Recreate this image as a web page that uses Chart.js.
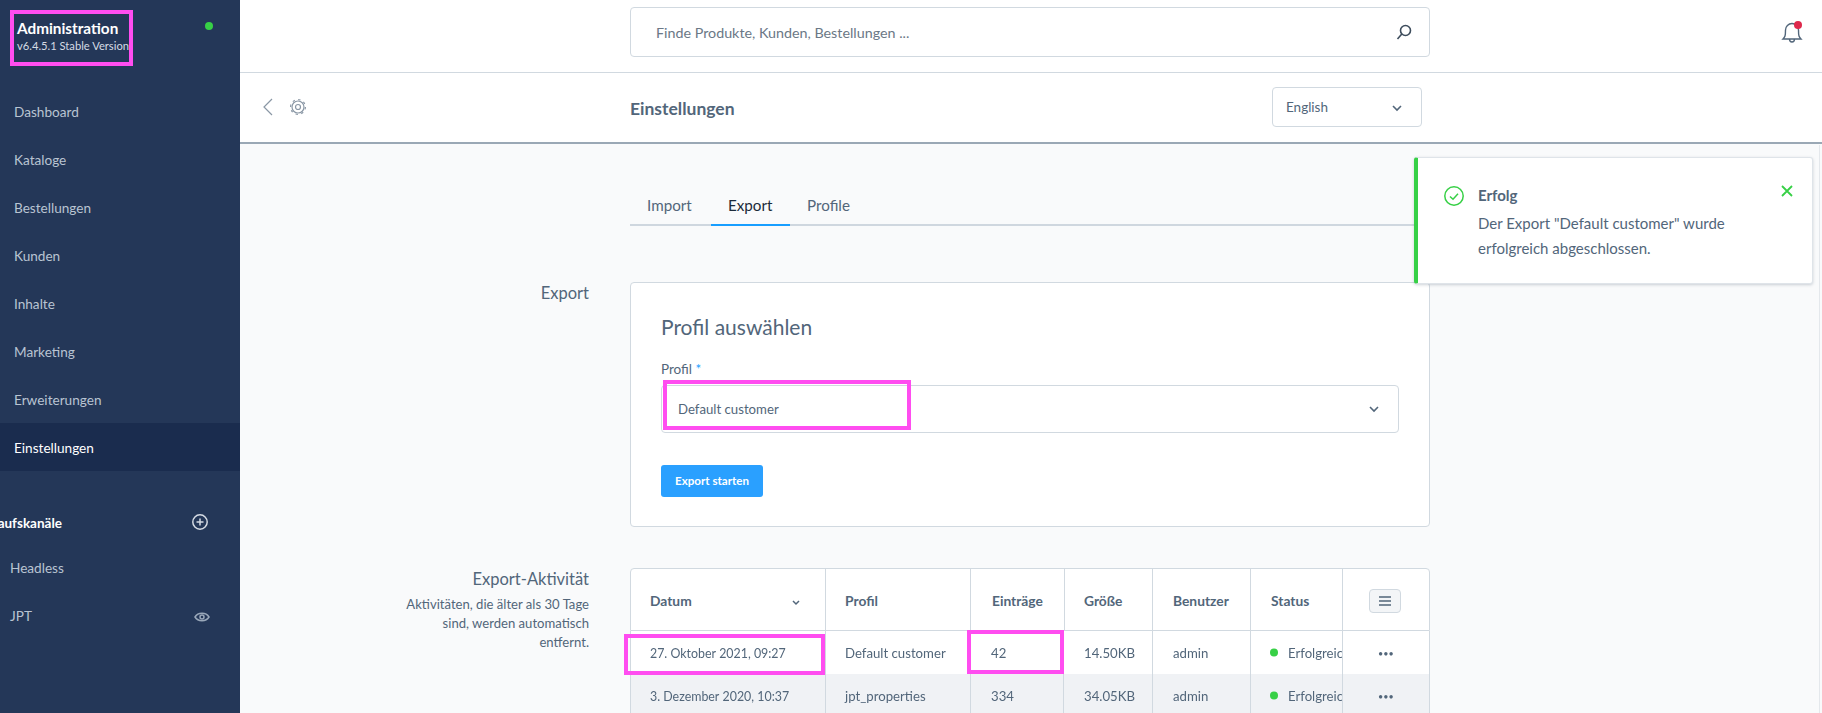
<!DOCTYPE html>
<html lang="de">
<head>
<meta charset="utf-8">
<title>Einstellungen</title>
<script src="https://cdn.jsdelivr.net/npm/chart.js@4"></script>
<style>
  html, body { margin: 0; padding: 0; width: 1822px; height: 713px; overflow: hidden; background: #f9fafb; font-family: Lato, sans-serif; color: #52667a; }
  .box { position: absolute; box-sizing: border-box; }
  .t { position: absolute; transform: translateY(-50%); white-space: nowrap; line-height: 1.2; }
  .r { text-align: right; }
  .mark { position: absolute; box-sizing: border-box; border: 4px solid #ff4df0; z-index: 5; }
  svg { position: absolute; overflow: visible; fill: none; }
  #tableWrap { position: absolute; left: 630px; top: 631px; width: 800px; height: 86px; }
  .nav { color: #b9c4d2; font-size: 13.6px; }
  .th { font-size: 13.8px; font-weight: 700; }
  .vline { position: absolute; top: 568px; height: 63px; width: 1px; background: #d1d9e0; }
</style>
</head>
<body>
<div class="box" style="left:0;top:0;width:240px;height:713px;background:#243758"></div>
<div class="box" style="left:0;top:423px;width:240px;height:48px;background:#1a2c4e"></div>
<div class="t" style="left:17px;top:28px;color:#fff;font-size:15.3px;font-weight:700">Administration</div>
<div class="t" style="left:17px;top:46px;color:#d5dbe4;font-size:11.2px">v6.4.5.1 Stable Version</div>
<div class="box" style="left:205px;top:22px;width:8px;height:8px;border-radius:50%;background:#37d046"></div>
<div id="nav"></div>
<div class="t" style="right:1760px;top:523px;color:#fff;font-size:13.5px;font-weight:700">Verkaufskanäle</div>
<svg style="left:192px;top:514px" width="16" height="16" stroke="#d5dbe4" stroke-width="1.5"><circle cx="8" cy="8" r="7.2"/><path d="M4.5 8h7M8 4.5v7"/></svg>
<div class="t nav" style="left:10px;top:568px">Headless</div>
<div class="t nav" style="left:10px;top:616px">JPT</div>
<svg style="left:194px;top:611px" width="16" height="12" stroke="#9aa8ba" stroke-width="1.5"><path d="M1 6C4 1 12 1 15 6 12 11 4 11 1 6Z"/><circle cx="8" cy="6" r="2"/></svg>

<div class="box" style="left:240px;top:0;width:1582px;height:73px;background:#fff;border-bottom:1px solid #d1d9e0"></div>
<div class="box" style="left:240px;top:73px;width:1582px;height:71px;background:#fff;border-bottom:2px solid #9aa8b5"></div>
<div class="box" style="left:630px;top:7px;width:800px;height:50px;background:#fff;border:1px solid #d1d9e0;border-radius:4px"></div>
<div class="t" style="left:656px;top:33px;font-size:14.3px;color:#6b7886">Finde Produkte, Kunden, Bestellungen ...</div>
<svg style="left:1396px;top:24px" width="16" height="16" stroke="#3d4c5c" stroke-width="1.6"><circle cx="9.5" cy="6.5" r="5"/><path d="M5.8 10 1.5 15"/></svg>
<svg style="left:1782px;top:22px" width="20" height="22" stroke="#52667a" stroke-width="1.4"><path d="M1 17c2-2 2.5-3 2.5-9a6.5 6.5 0 0 1 13 0c0 6 .5 7 2.5 9ZM7.5 17c0 4 5 4 5 0"/></svg>
<div class="box" style="left:1794px;top:21px;width:8px;height:8px;border-radius:50%;background:#de294c"></div>

<svg style="left:262px;top:98px" width="12" height="18" stroke="#8a97a5" stroke-width="1.2"><path d="M10 1 2 9l8 8"/></svg>
<svg style="left:290px;top:99px" width="16" height="16" stroke="#8a97a5" stroke-width="1.2"><circle cx="8" cy="8" r="2.5"/><circle cx="8" cy="8" r="6"/><circle cx="8" cy="8" r="7.4" stroke-dasharray="2.4 3.4"/></svg>
<div class="t" style="left:630px;top:108px;font-size:17.5px;font-weight:700">Einstellungen</div>
<div class="box" style="left:1272px;top:87px;width:150px;height:40px;background:#fff;border:1px solid #d1d9e0;border-radius:4px"></div>
<div class="t" style="left:1286px;top:107px;font-size:13.5px">English</div>
<svg style="left:1392px;top:105px" width="10" height="6" stroke="#52667a" stroke-width="1.6"><path d="M1 1l4 4 4-4"/></svg>

<div class="t" style="left:647px;top:205px;font-size:15.2px">Import</div>
<div class="t" style="left:728px;top:205px;font-size:15.2px;color:#1b2a3a">Export</div>
<div class="t" style="left:807px;top:205px;font-size:15.2px">Profile</div>
<div class="box" style="left:630px;top:224px;width:800px;height:2px;background:#cfd7df"></div>
<div class="box" style="left:711px;top:224px;width:79px;height:2px;background:#189eff"></div>

<div class="t r" style="right:1233px;top:294px;font-size:16.5px">Export</div>
<div class="t r" style="right:1233px;top:580px;font-size:16.5px">Export-Aktivität</div>
<div class="t r" style="right:1233px;top:605px;font-size:13.1px">Aktivitäten, die älter als 30 Tage</div>
<div class="t r" style="right:1233px;top:624px;font-size:13.1px">sind, werden automatisch</div>
<div class="t r" style="right:1233px;top:643px;font-size:13.1px">entfernt.</div>

<div class="box" style="left:630px;top:282px;width:800px;height:245px;background:#fff;border:1px solid #d1d9e0;border-radius:4px"></div>
<div class="t" style="left:661px;top:327px;font-size:21px">Profil auswählen</div>
<div class="t" style="left:661px;top:369px;font-size:13.5px">Profil <span style="color:#189eff">*</span></div>
<div class="box" style="left:661px;top:385px;width:738px;height:48px;background:#fff;border:1px solid #d1d9e0;border-radius:4px"></div>
<div class="t" style="left:678px;top:410px;font-size:13.2px">Default customer</div>
<svg style="left:1369px;top:406px" width="10" height="6" stroke="#52667a" stroke-width="1.6"><path d="M1 1l4 4 4-4"/></svg>
<div class="box" style="left:661px;top:465px;width:102px;height:32px;background:#2aa0ff;border-radius:3px"></div>
<div class="t" style="left:661px;top:481px;width:102px;text-align:center;color:#fff;font-size:11.6px;font-weight:700">Export starten</div>

<div class="box" style="left:630px;top:568px;width:800px;height:63px;background:#fff;border:1px solid #d1d9e0;border-radius:4px 4px 0 0"></div>
<div id="tableHead"></div>
<svg style="left:792px;top:600px" width="8" height="5" stroke="#52667a" stroke-width="1.5"><path d="M1 1l3 3 3-3"/></svg>
<div class="box" style="left:1369px;top:589px;width:32px;height:24px;background:#f3f5f7;border:1px solid #d1d9e0;border-radius:4px"></div>
<svg style="left:1378px;top:595px" width="14" height="12" stroke="#52667a" stroke-width="1.3"><path d="M1 2h12M1 6h12M1 10h12"/></svg>

<div id="tableWrap"><canvas id="exportTable"></canvas></div>

<div class="mark" style="left:10px;top:10px;width:123px;height:56px"></div>
<div class="mark" style="left:663px;top:380px;width:248px;height:50px"></div>
<div class="mark" style="left:624px;top:634px;width:201px;height:41px"></div>
<div class="mark" style="left:967px;top:630px;width:97px;height:44px"></div>

<div class="box" style="left:1414px;top:157px;width:399px;height:127px;background:#fff;border:1px solid #dfe4e9;border-left:4px solid #37d046;border-radius:3px;box-shadow:0 1px 3px rgba(60,80,100,.25);z-index:6"></div>
<svg style="left:1444px;top:186px;z-index:7" width="20" height="20" stroke="#37d046" stroke-width="1.5"><circle cx="10" cy="10" r="9.2"/><path d="M6 10.5l3 2.8 5-5.6"/></svg>
<div class="t" style="left:1478px;top:195px;font-size:15px;font-weight:700;z-index:7">Erfolg</div>
<div class="t" style="left:1478px;top:223px;font-size:15px;z-index:7">Der Export "Default customer" wurde</div>
<div class="t" style="left:1478px;top:248px;font-size:15px;z-index:7">erfolgreich abgeschlossen.</div>
<svg style="left:1782px;top:186px;z-index:7" width="10" height="10" stroke="#37d046" stroke-width="1.8"><path d="M0 0l10 10M10 0 0 10"/></svg>
<div class="box" style="left:1819px;top:145px;width:1px;height:568px;background:#e4e8ec"></div>

<script>
// sidebar and table content
const navItems = ['Dashboard', 'Kataloge', 'Bestellungen', 'Kunden', 'Inhalte', 'Marketing', 'Erweiterungen', 'Einstellungen'];
const tableHeaders = ['Datum', 'Profil', 'Einträge', 'Größe', 'Benutzer', 'Status'];
const dates = ['27. Oktober 2021, 09:27', '3. Dezember 2020, 10:37'];
const profiles = ['Default customer', 'jpt_properties'];
const entries = [42, 334];
const sizesKb = [14.50, 34.05];
const users = ['admin', 'admin'];
const statuses = ['Erfolgreich', 'Erfolgreich'];

// table layout, x in px from the left of the table
const columnEdges = [195, 340, 433.5, 522, 620, 712];
const headerX = [20, 215, 362, 454, 543, 641];
const textX = { date: 20, profile: 215, entries: 361, size: 454, user: 543, status: 658, actions: 748 };
const statusDotX = 644;

navItems.forEach((name, i) => {
  const el = document.createElement('div');
  el.className = 't nav';
  el.textContent = name;
  el.style.left = '14px';
  el.style.top = (112 + i * 48) + 'px';
  if (name === 'Einstellungen') el.style.color = '#fff';
  document.getElementById('nav').appendChild(el);
});

const head = document.getElementById('tableHead');
tableHeaders.forEach((name, i) => {
  const el = document.createElement('div');
  el.className = 't th';
  el.textContent = name;
  el.style.left = (630 + headerX[i]) + 'px';
  el.style.top = '601px';
  head.appendChild(el);
});
columnEdges.forEach(x => {
  const el = document.createElement('div');
  el.className = 'vline';
  el.style.left = (630 + x) + 'px';
  head.appendChild(el);
});

// draws the row stripes before the grid, the cell text after the datasets
const tableRows = {
  id: 'tableRows',
  beforeDraw(chart) {
    const { ctx, chartArea, scales: { y } } = chart;
    const band = y.getPixelForValue(1) - y.getPixelForValue(0);
    ctx.save();
    dates.forEach((d, i) => {
      ctx.fillStyle = i % 2 ? '#f0f2f5' : '#fff';
      ctx.fillRect(chartArea.left, y.getPixelForValue(i) - band / 2, chartArea.width, band);
    });
    ctx.fillStyle = '#d1d9e0';
    ctx.fillRect(chartArea.left, chartArea.top, 1, chartArea.height);
    ctx.fillRect(chartArea.right - 1, chartArea.top, 1, chartArea.height);
    ctx.restore();
  },
  afterDatasetsDraw(chart) {
    const { ctx, chartArea, scales: { x, y } } = chart;
    ctx.save();
    ctx.fillStyle = '#52667a';
    ctx.textBaseline = 'middle';
    dates.forEach((d, i) => {
      const py = y.getPixelForValue(i) + 1.5;
      ctx.font = '12.4px Lato';
      ctx.fillText(d, x.getPixelForValue(textX.date), py);
      ctx.font = '13.2px Lato';
      ctx.fillText(profiles[i], x.getPixelForValue(textX.profile), py);
      ctx.fillText(String(entries[i]), x.getPixelForValue(textX.entries), py);
      ctx.fillText(sizesKb[i].toFixed(2) + 'KB', x.getPixelForValue(textX.size), py);
      ctx.fillText(users[i], x.getPixelForValue(textX.user), py);
      // status text is cut off by its column
      ctx.save();
      ctx.beginPath();
      ctx.rect(chartArea.left, chartArea.top, x.getPixelForValue(columnEdges[5]), chartArea.height);
      ctx.clip();
      ctx.fillText(statuses[i], x.getPixelForValue(textX.status), py);
      ctx.restore();
      ctx.font = '9px Lato';
      ctx.fillText('•••', x.getPixelForValue(textX.actions), py);
    });
    ctx.restore();
  }
};

const exportTable = new Chart(document.getElementById('exportTable'), {
  type: 'scatter',
  data: {
    labels: dates,
    datasets: [{
      label: 'Status',
      data: dates.map(d => ({ x: statusDotX, y: d })),
      backgroundColor: '#37d046',
      borderWidth: 0,
      pointRadius: 4
    }]
  },
  options: {
    responsive: true,
    maintainAspectRatio: false,
    animation: false,
    events: [],
    layout: { padding: 0, autoPadding: false },
    plugins: { legend: { display: false }, tooltip: { enabled: false } },
    scales: {
      x: {
        type: 'linear',
        min: 0,
        max: 800,
        afterBuildTicks: scale => { scale.ticks = columnEdges.map(v => ({ value: v })); },
        ticks: { display: false, autoSkip: false },
        border: { display: false },
        grid: { color: '#d1d9e0', drawTicks: false }
      },
      y: {
        type: 'category',
        labels: dates,
        offset: true,
        display: false
      }
    }
  },
  plugins: [tableRows]
});
</script>
</body>
</html>
